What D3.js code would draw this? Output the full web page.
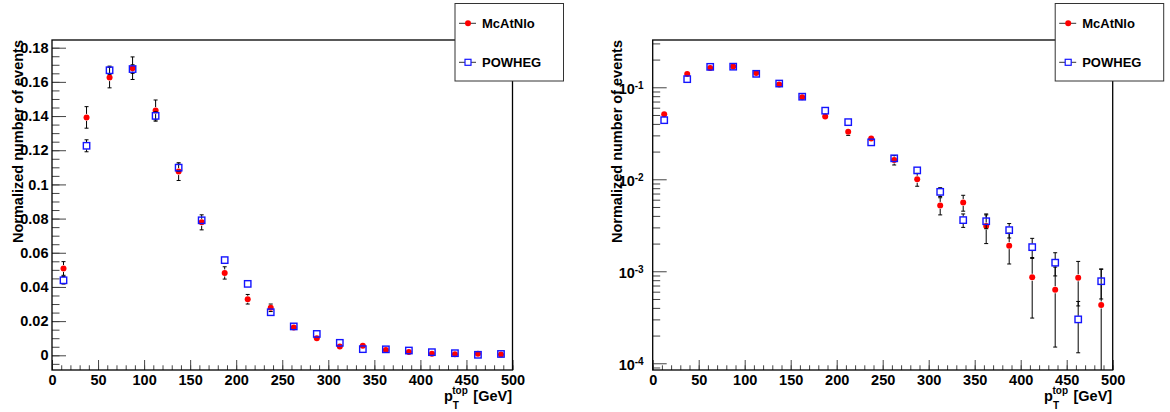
<!DOCTYPE html>
<html>
<head>
<meta charset="utf-8">
<script src="https://cdn.jsdelivr.net/npm/d3@7"></script>
<style>
  html, body { margin: 0; padding: 0; background: #fff; }
  svg { display: block; font-family: "Liberation Sans", Arial, Helvetica, sans-serif; font-weight: bold; }
</style>
</head>
<body>
<script>
// Top-quark transverse momentum spectrum: McAtNlo vs POWHEG, 25 GeV bins
const binCenters = [12.5, 37.5, 62.5, 87.5, 112.5, 137.5, 162.5, 187.5, 212.5, 237.5,
                    262.5, 287.5, 312.5, 337.5, 362.5, 387.5, 412.5, 437.5, 462.5, 487.5];

const mcatnlo    = [0.0508, 0.1392, 0.1625, 0.1680, 0.1432, 0.1075, 0.0778, 0.0482, 0.0328, 0.0278,
                    0.0162, 0.0100, 0.0052, 0.0056, 0.0031, 0.0019, 0.00086, 0.00063, 0.00085, 0.00043];
const mcatnloErr = [0.0040, 0.0063, 0.0060, 0.0066, 0.0062, 0.0052, 0.0044, 0.0036, 0.0028, 0.0022,
                    0.0019, 0.0016, 0.0011, 0.0011, 0.0011, 0.0007, 0.00055, 0.00048, 0.00043, 0.00062];

const powheg     = [0.0439, 0.1226, 0.1668, 0.1675, 0.1401, 0.1098, 0.0790, 0.0557, 0.0418, 0.0252,
                    0.0169, 0.0125, 0.0073, 0.0036, 0.0035, 0.0028, 0.00183, 0.00124, 0.00030, 0.00078];
const powhegErr  = [0.0022, 0.0035, 0.0024, 0.0025, 0.0024, 0.0021, 0.0018, 0.0015, 0.0012, 0.0010,
                    0.0008, 0.0008, 0.0008, 0.0006, 0.0006, 0.0005, 0.00045, 0.00035, 0.00017, 0.00028];

const xTickValues   = [0, 50, 100, 150, 200, 250, 300, 350, 400, 450, 500];
const linTickValues = [0, 0.02, 0.04, 0.06, 0.08, 0.1, 0.12, 0.14, 0.16, 0.18];
const logTickValues = [1e-4, 1e-3, 1e-2, 1e-1];
const logTickExps   = ["-4", "-3", "-2", "-1"];
const legendLabels  = ["McAtNlo", "POWHEG"];
const yTitle = "Normalized number of events";

const RED = "#ff0000";
const BLUE = "#1414ff";
const TICK = "#444";

const svg = d3.select("body").append("svg")
  .attr("width", 1170).attr("height", 412);

function drawPanel(cfg) {
  const top = 40, bottom = 370;
  const g = svg.append("g");

  const x = d3.scaleLinear().domain([0, 500]).range([cfg.left, cfg.right]);
  const y = cfg.log
    ? d3.scaleLog().domain([8.45e-5, 0.3266]).range([bottom, top])
    : d3.scaleLinear().domain([-0.0086, 0.1845]).range([bottom, top]);

  const clipId = "clip" + cfg.id;
  svg.append("clipPath").attr("id", clipId)
    .append("rect").attr("x", cfg.left).attr("y", top)
    .attr("width", cfg.right - cfg.left).attr("height", bottom - top);

  const styleAxis = sel => {
    sel.select(".domain").remove();
    sel.selectAll(".tick line").attr("stroke", TICK).attr("stroke-width", 1);
  };

  // x ticks (minor every 10, major every 50), pointing into the frame
  g.append("g").attr("transform", `translate(0,${bottom})`)
    .call(d3.axisBottom(x).tickValues(d3.range(0, 501, 10)).tickSize(-4.7).tickFormat(""))
    .call(styleAxis);
  g.append("g").attr("transform", `translate(0,${bottom})`)
    .call(d3.axisBottom(x).tickValues(xTickValues).tickSize(-10).tickPadding(5).tickFormat(d3.format("d")))
    .call(styleAxis)
    .call(sel => sel.selectAll("text").attr("fill", "#000").attr("font-size", "14.5px")
      .attr("font-family", null).attr("font-weight", "bold"));

  // y ticks
  if (!cfg.log) {
    const minor = d3.range(-1, 37).map(k => +(k * 0.005).toFixed(3));
    g.append("g").attr("transform", `translate(${cfg.left},0)`)
      .call(d3.axisLeft(y).tickValues(minor).tickSize(-7.5).tickFormat(""))
      .call(styleAxis);
    g.append("g").attr("transform", `translate(${cfg.left},0)`)
      .call(d3.axisLeft(y).tickValues(linTickValues).tickSize(-14).tickPadding(3.5)
        .tickFormat(v => String(+v.toFixed(2))))
      .call(styleAxis)
      .call(sel => sel.selectAll("text").attr("fill", "#000").attr("font-size", "14.5px")
        .attr("font-family", null).attr("font-weight", "bold"));
  } else {
    const minor = [];
    for (let e = -5; e <= -1; e++) for (let m = 2; m <= 9; m++) {
      const v = m * Math.pow(10, e);
      if (v > y.domain()[0] && v < y.domain()[1]) minor.push(v);
    }
    g.append("g").attr("transform", `translate(${cfg.left},0)`)
      .call(d3.axisLeft(y).tickValues(minor).tickSize(-7.5).tickFormat(""))
      .call(styleAxis);
    const ax = g.append("g").attr("transform", `translate(${cfg.left},0)`)
      .call(d3.axisLeft(y).tickValues(logTickValues).tickSize(-14).tickPadding(9).tickFormat(() => ""))
      .call(styleAxis);
    ax.selectAll(".tick text").each(function(d, i) {
      const t = d3.select(this).attr("fill", "#000").attr("font-family", null)
        .attr("font-weight", "bold").attr("font-size", "14.5px").attr("dy", "0.45em");
      t.append("tspan").text("10");
      t.append("tspan").attr("font-size", "10px").attr("dy", "-0.55em").text(logTickExps[i]);
    });
  }

  // y axis title
  g.append("text")
    .attr("transform", `translate(${cfg.left - cfg.titleOffset},${top}) rotate(-90)`)
    .attr("text-anchor", "end")
    .attr("font-size", "14.5px")
    .text(yTitle);

  // x axis title: p_T^top [GeV], right-aligned to the frame
  const base = 400.5;
  const gev = g.append("text").attr("x", cfg.right - 0.5).attr("y", base)
    .attr("text-anchor", "end").attr("font-size", "14.5px").text("[GeV]");
  const gevStart = cfg.right - 0.5 - gev.node().getComputedTextLength();
  const sup = g.append("text").attr("y", base - 7).attr("font-size", "10px").text("top");
  const supStart = gevStart - 5.5 - sup.node().getComputedTextLength();
  sup.attr("x", supStart);
  g.append("text").attr("x", supStart + 0.5).attr("y", base + 8).attr("font-size", "10px").text("T");
  g.append("text").attr("x", supStart + 0.5).attr("y", base)
    .attr("text-anchor", "end").attr("font-size", "14.5px").text("p");

  // data with error bars
  const plot = g.append("g").attr("clip-path", `url(#${clipId})`);
  const gap = 3.5, cap = 2;
  function series(values, errs, kind) {
    const sg = plot.append("g");
    values.forEach((v, i) => {
      const cx = x(binCenters[i]);
      const cy = y(v);
      const hi = y(v + errs[i]);
      const lowVal = v - errs[i];
      const lowClipped = cfg.log && lowVal <= y.domain()[0];
      const lo = lowClipped ? bottom + 2 : y(lowVal);
      const segs = [];
      if (hi < cy - gap) segs.push([hi, cy - gap]);
      if (lo > cy + gap) segs.push([cy + gap, lo]);
      segs.forEach(s => sg.append("line")
        .attr("x1", cx).attr("x2", cx).attr("y1", s[0]).attr("y2", s[1])
        .attr("stroke", "#000").attr("stroke-width", 1));
      if (hi < cy - gap) sg.append("line").attr("x1", cx - cap).attr("x2", cx + cap)
        .attr("y1", hi).attr("y2", hi).attr("stroke", "#000").attr("stroke-width", 1);
      if (!lowClipped && lo > cy + gap) sg.append("line").attr("x1", cx - cap).attr("x2", cx + cap)
        .attr("y1", lo).attr("y2", lo).attr("stroke", "#000").attr("stroke-width", 1);
      if (kind === "dot") {
        sg.append("circle").attr("cx", cx).attr("cy", cy).attr("r", 3).attr("fill", RED);
      } else {
        sg.append("rect").attr("x", cx - 3.2).attr("y", cy - 3.2).attr("width", 6.4).attr("height", 6.4)
          .attr("fill", "none").attr("stroke", BLUE).attr("stroke-width", 1.4);
      }
    });
  }
  series(mcatnlo, mcatnloErr, "dot");
  series(powheg, powhegErr, "square");

  // frame
  g.append("rect").attr("x", cfg.left).attr("y", top)
    .attr("width", cfg.right - cfg.left).attr("height", bottom - top)
    .attr("fill", "none").attr("stroke", "#000").attr("stroke-width", 1.3);

  // legend
  const bl = cfg.right - 57.5, br = cfg.right + 51;
  g.append("rect").attr("x", bl).attr("y", 3.5).attr("width", br - bl).attr("height", 77.5)
    .attr("fill", "#fff").attr("stroke", "#333").attr("stroke-width", 1);
  const rows = [23.3, 62.3];
  legendLabels.forEach((lab, i) => {
    const ly = rows[i];
    g.append("line").attr("x1", bl + 4).attr("x2", bl + 21).attr("y1", ly).attr("y2", ly)
      .attr("stroke", "#333").attr("stroke-width", 1);
    if (i === 0) {
      g.append("circle").attr("cx", bl + 13).attr("cy", ly).attr("r", 3).attr("fill", RED);
    } else {
      g.append("rect").attr("x", bl + 10).attr("y", ly - 3).attr("width", 6).attr("height", 6)
        .attr("fill", "#fff").attr("stroke", BLUE).attr("stroke-width", 1.2);
    }
    g.append("text").attr("x", bl + 27).attr("y", ly + 4.5).attr("font-size", "13px").text(lab);
  });
}

drawPanel({ id: "lin", left: 52, right: 512.5, log: false, titleOffset: 29 });
drawPanel({ id: "log", left: 652.7, right: 1112.7, log: true, titleOffset: 31 });
</script>
</body>
</html>
